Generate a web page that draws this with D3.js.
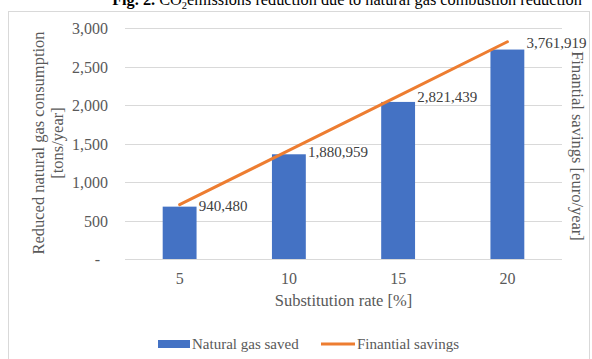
<!DOCTYPE html>
<html>
<head>
<meta charset="utf-8">
<script src="https://cdn.jsdelivr.net/npm/d3@7"></script>
<style>
  html, body { margin: 0; padding: 0; background: #fff; }
  svg { display: block; }
  svg text { font-family: "Liberation Serif", "Times New Roman", serif; }
</style>
</head>
<body>
<svg id="chart" width="592" height="359"></svg>
<script>
// Substitution rate categories (%)
const rates = ["5", "10", "15", "20"];
// Natural gas saved [tons/year]
const gasSaved = [680, 1360, 2040, 2720];
// Financial savings [euro/year]
const savings = [940480, 1880959, 2821439, 3761919];
// Left axis ticks
const leftTicks = [0, 500, 1000, 1500, 2000, 2500, 3000];

const svg = d3.select("#chart");
const plot = { left: 125, right: 562, top: 28, bottom: 259 };

const blue = "#4472C4", orange = "#ED7D31", grid = "#d9d9d9", axisText = "#595959";

// Chart frame
svg.append("rect")
  .attr("x", 8.5).attr("y", 11.5)
  .attr("width", 581).attr("height", 400)
  .attr("fill", "#fff").attr("stroke", grid).attr("stroke-width", 1);

// Caption above the chart
const cap = svg.append("text")
  .attr("x", 347).attr("y", 5)
  .attr("text-anchor", "middle")
  .attr("font-size", 16.3).attr("fill", "#000");
cap.append("tspan").attr("font-weight", "bold").text("Fig. 2.");
cap.append("tspan").text(" CO");
cap.append("tspan").attr("font-size", 10.5).attr("dy", 4).text("2");
cap.append("tspan").attr("dy", -4).text("emissions reduction due to natural gas combustion reduction");

const x = d3.scaleBand().domain(rates).range([plot.left, plot.right]).padding(0);
const y = d3.scaleLinear().domain([0, 3000]).range([plot.bottom, plot.top]);
const y2 = d3.scaleLinear().domain([0, 4000000]).range([plot.bottom, plot.top]);

// Horizontal gridlines (including the baseline)
svg.append("g").selectAll("line").data(leftTicks).join("line")
  .attr("x1", plot.left).attr("x2", plot.right)
  .attr("y1", d => Math.round(y(d)) + 0.5).attr("y2", d => Math.round(y(d)) + 0.5)
  .attr("stroke", grid).attr("stroke-width", 1);

// Left axis labels
const fmt = d3.format(",");
const yAxis = d3.axisLeft(y).tickValues(leftTicks)
  .tickSize(0).tickPadding(0)
  .tickFormat(d => d === 0 ? "-" : fmt(d));
const gy = svg.append("g").attr("transform", `translate(${plot.left - 17},0)`).call(yAxis);
gy.attr("font-family", null);
gy.select(".domain").remove();
gy.selectAll("text")
  .attr("font-size", 16).attr("fill", axisText)
  .attr("dy", "0.35em");
gy.selectAll(".tick").filter(d => d === 0).select("text").attr("x", -8);

// Bottom axis labels
const xAxis = d3.axisBottom(x).tickSize(0).tickPadding(0);
const gx = svg.append("g").attr("transform", `translate(0,${plot.bottom + 14})`).call(xAxis);
gx.attr("font-family", null);
gx.select(".domain").remove();
gx.selectAll("text")
  .attr("font-size", 16).attr("fill", axisText);

// Bars
const barW = x.bandwidth() * 0.31;
svg.append("g").selectAll("rect").data(rates).join("rect")
  .attr("x", d => x(d) + (x.bandwidth() - barW) / 2)
  .attr("width", barW)
  .attr("y", (d, i) => y(gasSaved[i]))
  .attr("height", (d, i) => y(0) - y(gasSaved[i]))
  .attr("fill", blue);

// Savings line
const cx = d => x(d) + x.bandwidth() / 2;
const line = d3.line().x((d, i) => cx(rates[i])).y(d => y2(d));
svg.append("path").datum(savings)
  .attr("d", line)
  .attr("fill", "none").attr("stroke", orange)
  .attr("stroke-width", 3).attr("stroke-linecap", "round");

// Value labels on the line
svg.append("g").selectAll("text").data(savings).join("text")
  .attr("x", (d, i) => cx(rates[i]) + 19)
  .attr("y", d => y2(d) + 1)
  .attr("dy", "0.35em")
  .attr("font-size", 15).attr("fill", "#404040")
  .text(d => fmt(d));

// Axis titles
const leftTitle = svg.append("text")
  .attr("transform", "translate(38,143) rotate(-90)")
  .attr("text-anchor", "middle")
  .attr("font-size", 16.5).attr("fill", axisText);
leftTitle.append("tspan").attr("x", 0).attr("dy", "0.35em").text("Reduced natural gas consumption");
leftTitle.append("tspan").attr("x", 0).attr("dy", "1.15em").text("[tons/year]");

svg.append("text")
  .attr("transform", "translate(578,146) rotate(90)")
  .attr("text-anchor", "middle").attr("dy", "0.35em")
  .attr("font-size", 16.5).attr("fill", axisText)
  .text("Finantial savings [euro/year]");

svg.append("text")
  .attr("x", (plot.left + plot.right) / 2).attr("y", 300)
  .attr("dy", "0.35em")
  .attr("text-anchor", "middle")
  .attr("font-size", 16.5).attr("fill", axisText)
  .text("Substitution rate [%]");

// Legend
const legend = svg.append("g").attr("transform", "translate(0,344)");
legend.append("rect").attr("x", 158).attr("y", -4).attr("width", 32).attr("height", 8).attr("fill", blue);
legend.append("text").attr("x", 192).attr("y", 0).attr("dy", "0.35em")
  .attr("font-size", 15).attr("fill", axisText).text("Natural gas saved");
legend.append("line").attr("x1", 321).attr("x2", 355).attr("y1", 0).attr("y2", 0)
  .attr("stroke", orange).attr("stroke-width", 3);
legend.append("text").attr("x", 357).attr("y", 0).attr("dy", "0.35em")
  .attr("font-size", 15).attr("fill", axisText).text("Finantial savings");
</script>
</body>
</html>
